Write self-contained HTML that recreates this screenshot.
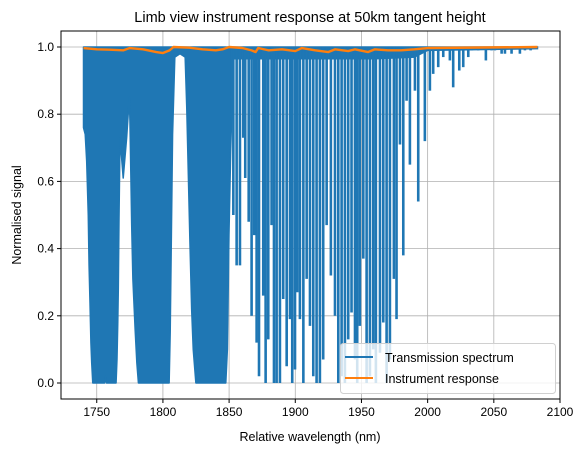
<!DOCTYPE html>
<html><head><meta charset="utf-8">
<style>
html,body{margin:0;padding:0;background:#fff;}
svg{display:block;font-family:"Liberation Sans","DejaVu Sans",sans-serif;}
</style></head>
<body>
<svg id="chart" width="584" height="453" viewBox="0 0 584 453"></svg>
<script>
// ---- data ----
const xTicks = [1750,1800,1850,1900,1950,2000,2050,2100];
const yTicks = [0.0,0.2,0.4,0.6,0.8,1.0];
// band envelope (minimum of transmission within dense absorption bands)
const bandWl  = [1740,1741.3,1742.4,1743.6,1744.2,1744.9,1745.6,1746.2,1747,1756,1756.7,1757.4,1764.6,1765.3,1765.9,1766.3,1766.8,1767.6,1770,1772.6,1774.6,1775.1,1776.4,1777.3,1779.0,1780.3,1781.5,1804.7,1805.5,1806.4,1807.3,1809,1812.9,1816.8,1818.0,1819.2,1820.4,1821.7,1822.9,1824.9,1847.5,1848.7,1849.9,1851.2,1852];
const bandMin = [0.76,0.74,0.66,0.5,0.35,0.24,0.12,0.06,0.0,0.0,0.02,0.0,0.0,0.07,0.18,0.28,0.48,0.73,0.61,0.73,0.85,0.78,0.47,0.31,0.16,0.06,0.0,0.0,0.15,0.44,0.74,0.97,0.98,0.97,0.82,0.62,0.42,0.22,0.1,0.0,0.0,0.1,0.44,0.69,0.8];
// individual absorption lines
const lineWl  = [1853.2,1855.7,1858.2,1860.7,1862.2,1864.8,1867.0,1869.0,1870.8,1872.6,1875.8,1877.6,1879.6,1882.1,1883.9,1885.9,1888.4,1890.9,1893.5,1896.0,1897.7,1899.8,1901.5,1903.5,1906.1,1908.6,1911.1,1913.6,1916.1,1918.6,1921.1,1923.7,1926.9,1930.0,1932.5,1935.0,1937.5,1940.0,1942.5,1945.1,1946.8,1948.8,1951.4,1953.9,1956.4,1958.9,1960.9,1964.0,1966.5,1969.0,1971.5,1974.5,1976.5,1979.1,1981.6,1984.1,1986.6,1990.4,1992.9,1997.9,2001.7,2004.2,2008.0,2011.8,2016.8,2019.3,2023.9,2026.9,2030.7,2033.2,2038.2,2044.0,2048.3,2050.8,2055.9,2058.4,2063.4,2069.7,2073.5,2077.8];
const lineMin = [0.50,0.35,0.35,0.73,0.61,0.48,0.20,0.44,0.12,0.02,0.26,0.0,0.13,0.47,0.0,0.0,0.0,0.25,0.05,0.19,0.0,0.04,0.27,0.19,0.0,0.31,0.17,0.02,0.0,0.0,0.07,0.47,0.32,0.20,0.0,0.02,0.0,0.13,0.21,0.07,0.0,0.17,0.37,0.0,0.02,0.10,0.0,0.09,0.18,0.0,0.07,0.31,0.19,0.71,0.38,0.84,0.65,0.87,0.54,0.72,0.87,0.92,0.94,0.97,0.96,0.88,0.93,0.94,0.97,0.99,0.99,0.96,0.99,0.99,0.98,0.98,0.98,0.98,0.99,0.99];
// dense weak-line continuum level
const contWl  = [1852,1900,1960,1990,2000,2083];
const contMin = [0.965,0.965,0.965,0.97,0.99,0.995];
// instrument response
const respWl  = [1740,1750,1760,1770,1775,1785,1795,1800,1805,1808,1820,1830,1840,1845,1850,1860,1867,1870,1872,1880,1890,1900,1905,1915,1925,1930,1940,1945,1955,1960,1970,1980,1990,2000,2083];
const respVal = [0.997,0.993,0.992,0.99,0.997,0.993,0.985,0.982,0.99,1.0,0.998,0.993,0.99,0.993,1.0,0.997,0.99,0.985,0.997,0.99,0.993,0.988,0.997,0.99,0.985,0.993,0.988,0.993,0.985,0.993,0.99,0.99,0.993,0.997,1.0];

// ---- axes ----
const L=61,R=560,T=31,B=399;
const xMin=1723,xMax=2100;
const X=v=>L+(v-xMin)/(xMax-xMin)*(R-L);
const Y=v=>383-v*336;
const NS="http://www.w3.org/2000/svg";
const svg=document.getElementById('chart');
function mk(tag,attrs,parent){const e=document.createElementNS(NS,tag);for(const k in attrs)e.setAttribute(k,attrs[k]);(parent||svg).appendChild(e);return e;}

const bg=mk('rect',{x:L,y:T,width:R-L,height:B-T,fill:'#fff'});



// grid
const grid=mk('g',{stroke:'#b0b0b0','stroke-width':0.8});


xTicks.forEach(t=>{mk('line',{x1:X(t),x2:X(t),y1:T,y2:B},grid);});
yTicks.forEach(t=>{mk('line',{x1:L,x2:R,y1:Y(t),y2:Y(t)},grid);});

// transmission
const trans=mk('g',{fill:'#1f77b4',stroke:'#1f77b4'});


let pts=X(bandWl[0])+','+Y(1.0)+' ';
bandWl.forEach((w,i)=>{pts+=X(w)+','+Y(bandMin[i])+' ';});
pts+=X(bandWl[bandWl.length-1])+','+Y(1.0);
const band=mk('polygon',{points:pts,'stroke-width':1.5,'stroke-linejoin':'round'},trans);


let cp=X(contWl[0])+','+Y(1.0)+' ';
contWl.forEach((w,i)=>{cp+=X(w)+','+Y(contMin[i])+' ';});
cp+=X(contWl[contWl.length-1])+','+Y(1.0);
const cont=mk('polygon',{points:cp,'stroke-width':1.5},trans);


lineWl.forEach((w,i)=>{
  const l=mk('line',{x1:X(w),x2:X(w),y1:Y(1.0),y2:Y(lineMin[i]),'stroke-width':2.6},trans);
  
  
});

// response
let rp=respWl.map((w,i)=>X(w)+','+Y(respVal[i])).join(' ');
const resp=mk('polyline',{points:rp,fill:'none',stroke:'#ff7f0e','stroke-width':2.4,'stroke-linejoin':'round'});



// frame
const frame=mk('rect',{x:L,y:T,width:R-L,height:B-T,fill:'none',stroke:'#000','stroke-width':1});



// ticks
const xt=mk('g',{'font-size':'12px',fill:'#000','text-anchor':'middle'});


xTicks.forEach(t=>{
  mk('line',{x1:X(t),x2:X(t),y1:B,y2:B+4,stroke:'#000'},xt);
  const tx=mk('text',{x:X(t),y:B+17},xt);tx.textContent=t;
  
  
});
const yt=mk('g',{'font-size':'12px',fill:'#000','text-anchor':'end'});


yTicks.forEach(t=>{
  mk('line',{x1:L-4,x2:L,y1:Y(t),y2:Y(t),stroke:'#000'},yt);
  const tx=mk('text',{x:L-7,y:Y(t)+4},yt);tx.textContent=t.toFixed(1);
  
  
});
</script>
<svg style="position:absolute;left:0;top:0" width="584" height="453">
  <text x="310" y="22" text-anchor="middle" font-size="14.5" font-family="Liberation Sans, sans-serif">Limb view instrument response at 50km tangent height</text>
  <text x="310" y="441" text-anchor="middle" font-size="12.5" font-family="Liberation Sans, sans-serif">Relative wavelength (nm)</text>
  <text x="21" y="215" text-anchor="middle" font-size="12.5" font-family="Liberation Sans, sans-serif" transform="rotate(-90 21 215)">Normalised signal</text>
  <g>
    <rect x="340.5" y="343.5" width="215" height="50" rx="3" fill="#fff" fill-opacity="0.8" stroke="#d0d0d0"/>
    <line x1="345" x2="373" y1="357" y2="357" stroke="#1f77b4" stroke-width="2"/>
    <text x="385" y="362" font-size="12.5" font-family="Liberation Sans, sans-serif">Transmission spectrum</text>
    <line x1="345" x2="373" y1="378" y2="378" stroke="#ff7f0e" stroke-width="2"/>
    <text x="385" y="383" font-size="12.5" font-family="Liberation Sans, sans-serif">Instrument response</text>
  </g>
</svg>
</body></html>
